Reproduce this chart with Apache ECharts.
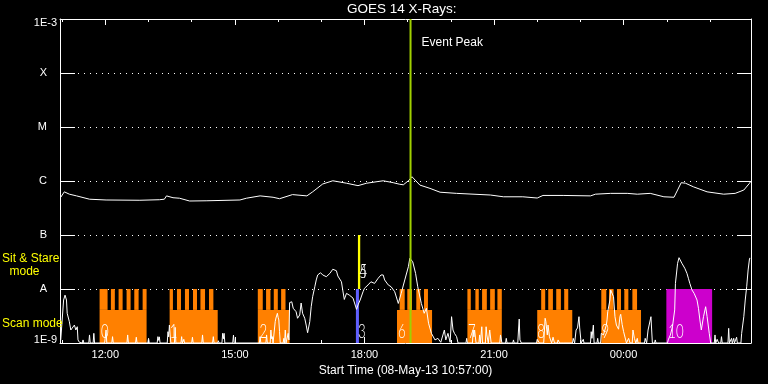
<!DOCTYPE html>
<html><head><meta charset="utf-8">
<script src="https://cdn.jsdelivr.net/npm/echarts@6/dist/echarts.min.js"></script>
<style>html,body{margin:0;padding:0;background:#000;}#c{width:768px;height:384px;}</style>
</head><body><div id="c"></div>
<script>
// x values: minutes after 00:00 on 08-May-13 (values above 1440 fall on 09-May)
const timeRange = [657, 1617];
const hourTicks = [660,720,780,840,900,960,1020,1080,1140,1200,1260,1320,1380,1440,1500,1560];
const majorTicks = [720, 900, 1080, 1260, 1440];
const majorTickLabels = ['12:00', '15:00', '18:00', '21:00', '00:00'];
const fluxRange = [1e-9, 1e-3];
const classExponents = [-3, -4, -5, -6, -7, -8, -9];
const classLabels = ['1E-3', 'X', 'M', 'C', 'B', 'A', '1E-9'];

// GOES 14 long channel (upper white curve), [time, W/m^2]
const longChannel = [[658,5.0e-7],[663,6.3e-7],[670,5.7e-7],[680,5.3e-7],[698,4.6e-7],[721,4.45e-7],[768,4.4e-7],[795,4.5e-7],[802,4.6e-7],[805,5.3e-7],[814,4.9e-7],[823,4.8e-7],[837,4.26e-7],[860,4.3e-7],[907,4.45e-7],[916,4.8e-7],[935,5.3e-7],[953,5.0e-7],[962,4.7e-7],[980,5.6e-7],[1000,5.3e-7],[1008,6.3e-7],[1022,8.8e-7],[1036,1.01e-6],[1055,9.1e-7],[1071,8.2e-7],[1083,9.1e-7],[1106,1.01e-6],[1120,9.3e-7],[1129,8.7e-7],[1134,8.5e-7],[1141,1.01e-6],[1146,1.2e-6],[1157,8.4e-7],[1171,7.3e-7],[1185,6.2e-7],[1208,5.9e-7],[1255,5.5e-7],[1273,5.1e-7],[1300,5.1e-7],[1320,4.84e-7],[1328,5.4e-7],[1356,5.4e-7],[1394,5.3e-7],[1401,5.7e-7],[1422,5.9e-7],[1445,5.9e-7],[1459,5.7e-7],[1477,5.9e-7],[1496,5.1e-7],[1510,5.0e-7],[1515,6.8e-7],[1520,9.3e-7],[1526,9.1e-7],[1537,7.8e-7],[1556,6.3e-7],[1579,5.7e-7],[1595,5.9e-7],[1607,6.8e-7],[1615,9.1e-7],[1617,1.0e-6]];

// GOES 14 short channel (lower white curve), [time, W/m^2]
const shortChannel = [[658,1.14e-9],[660,1.1e-9],[662,6.25e-9],[664,7.7e-9],[666,6.25e-9],[667,3.55e-9],[670,2.48e-9],[672,1.74e-9],[674,1.87e-9],[677,2.15e-9],[679,1.74e-9],[681,2.0e-9],[682,1.14e-9],[684,1.03e-9],
[688,1e-9],[689,1.14e-9],[690,1e-9],[697,1e-9],[698,1.41e-9],[699,1e-9],[703,1e-9],[704,1.51e-9],[705,1e-9],
[719,1e-9],[721,1.74e-9],[722,1e-9],[729,1e-9],[730,1.31e-9],[731,1e-9],[750,1e-9],[751,1.41e-9],[752,1e-9],
[762,1e-9],[763,1.28e-9],[764,1e-9],[779,1e-9],[780,1.22e-9],[781,1e-9],[792,1e-9],[793,1.31e-9],[794,1.12e-9],[795,1.3e-9],[796,1e-9],
[806,1e-9],[807,1.62e-9],[808,1.3e-9],[809,2.15e-9],[810,1.41e-9],[811,1e-9],[816,1e-9],[817,1.95e-9],[818,1e-9],
[825,1e-9],[826,1.31e-9],[827,1e-9],[828,1e-9],[829,1.17e-9],[830,1e-9],[840,1e-9],[841,1.28e-9],[842,1e-9],
[854,1e-9],[855,1.41e-9],[856,1e-9],[866,1e-9],[867,1.06e-9],[868,1e-9],[869,1e-9],[870,1.31e-9],[871,1e-9],
[876,1e-9],[877,1.1e-9],[878,1e-9],[882,1e-9],[883,1.51e-9],[884,1.2e-9],[885,1.51e-9],[886,1e-9],[897,1e-9],[898,1.4e-9],[899,1e-9],
[934,1e-9],[935,1.31e-9],[936,1e-9],[943,1e-9],[944,1.41e-9],[945,1e-9],[949,1e-9],[950,1.74e-9],[951,1.2e-9],[952,1.31e-9],[953,1e-9],
[955,1e-9],[956,2.48e-9],[957,2.9e-9],[959,3.55e-9],[960,3.0e-9],[961,2.67e-9],[962,1.62e-9],[963,1e-9],
[967,1e-9],[968,1.22e-9],[969,1e-9],[970,1.74e-9],[971,1e-9],[973,1e-9],[974,1.51e-9],[975,1.14e-9],
[976,5.6e-9],[979,5.8e-9],[981,4.4e-9],[982,4.1e-9],[985,3.8e-9],[987,2.87e-9],[990,3.3e-9],[992,5.5e-9],[994,3.55e-9],[997,2.87e-9],[999,2.15e-9],[1001,1.55e-9],[1004,2.48e-9],[1006,4.7e-9],[1008,7.2e-9],[1011,1.1e-8],[1013,1.47e-8],[1015,1.82e-8],[1019,2.0e-8],[1022,1.82e-8],[1027,1.69e-8],[1032,1.95e-8],[1036,2.32e-8],[1038,2.52e-8],[1041,2.18e-8],[1043,1.74e-8],[1048,1.36e-8],[1050,9.2e-9],[1052,6.4e-9],[1055,8.3e-9],[1059,7.7e-9],[1064,6.8e-9],[1069,4.2e-9],[1071,5.06e-9],[1074,6.25e-9],[1078,8.9e-9],[1080,1.03e-8],[1085,1.19e-8],[1089,1.36e-8],[1094,1.27e-8],[1099,1.58e-8],[1103,1.82e-8],[1106,1.82e-8],[1108,1.47e-8],[1113,1.19e-8],[1117,1.1e-8],[1122,8.9e-9],[1127,5.4e-9],[1131,8.3e-9],[1136,1.47e-8],[1141,2.59e-8],[1143,3.7e-8],[1145,3.7e-8],[1147,3.2e-8],[1151,1.95e-8],[1154,1.1e-8],[1159,5.4e-9],[1163,3.55e-9],[1166,4.4e-9],[1169,2.32e-9],[1173,1.51e-9],[1178,1.14e-9],[1182,1.22e-9],[1186,1.03e-9],[1191,1.74e-9],[1193,1.14e-9],[1196,1.51e-9],[1199,1.03e-9],[1201,3.07e-9],[1203,1.74e-9],[1205,1.51e-9],[1208,1.31e-9],[1210,1e-9],
[1221,1e-9],[1222,1.22e-9],[1223,1e-9],[1230,1e-9],[1231,1.74e-9],[1232,1.3e-9],[1233,1.74e-9],[1235,1e-9],[1239,1e-9],[1240,1.41e-9],[1241,1e-9],
[1242,1e-9],[1243,2.0e-9],[1244,1e-9],[1248,1e-9],[1249,2.0e-9],[1250,1.41e-9],[1252,1e-9],[1253,1e-9],[1254,1.74e-9],[1256,1e-9],
[1268,1e-9],[1269,1.41e-9],[1271,1e-9],[1276,1e-9],[1277,1.22e-9],[1278,1e-9],[1286,1e-9],[1287,1.14e-9],[1288,1e-9],
[1293,1e-9],[1294,1.74e-9],[1295,2.78e-9],[1296,1.14e-9],[1298,1e-9],[1319,1e-9],[1320,1.17e-9],[1323,1e-9],
[1329,1e-9],[1331,2.87e-9],[1332,2.48e-9],[1334,1.41e-9],[1335,2.15e-9],[1337,1.31e-9],[1340,1e-9],[1342,1.28e-9],[1344,1e-9],
[1348,1e-9],[1349,1.14e-9],[1351,1e-9],[1357,1e-9],[1358,1.03e-9],[1359,1e-9],[1369,1e-9],[1370,1.22e-9],[1372,1e-9],
[1374,1.74e-9],[1376,1.9e-9],[1378,3.07e-9],[1379,1.9e-9],[1381,1e-9],[1383,1e-9],[1384,1.17e-9],[1385,1e-9],
[1394,1e-9],[1395,1.62e-9],[1396,1.22e-9],[1398,2.15e-9],[1399,1e-9],[1403,1e-9],[1404,1.22e-9],[1405,1e-9],
[1408,1e-9],[1409,1.51e-9],[1412,1.41e-9],[1416,2.15e-9],[1417,2.67e-9],[1418,3.8e-9],[1421,6.25e-9],[1422,9.6e-9],[1423,9.6e-9],[1426,7.2e-9],[1428,3.07e-9],[1430,2.15e-9],[1433,1.8e-9],[1435,3.1e-9],[1436,3.4e-9],[1438,2.2e-9],[1440,1.62e-9],[1442,1.74e-9],[1444,1e-9],
[1446,1e-9],[1447,1.22e-9],[1449,1e-9],[1452,1e-9],[1453,1.74e-9],[1455,1.22e-9],[1457,1e-9],[1459,1.22e-9],[1460,1e-9],
[1469,1e-9],[1470,1.22e-9],[1472,1e-9],[1473,1e-9],[1474,1.74e-9],[1478,3.07e-9],[1479,1.74e-9],[1480,1e-9],[1483,1e-9],[1484,1.14e-9],[1485,1e-9],
[1501,1e-9],[1502,1.14e-9],[1505,1.41e-9],[1508,2.05e-9],[1511,4.1e-9],[1512,1.27e-8],[1515,2.99e-8],[1517,3.8e-8],[1521,2.99e-8],[1525,2.42e-8],[1528,1.95e-8],[1530,1.58e-8],[1532,1.27e-8],[1535,9.6e-9],[1538,8.3e-9],[1542,6.25e-9],[1544,4.4e-9],[1546,2.67e-9],[1548,1.74e-9],[1551,3.07e-9],[1554,4.7e-9],[1556,3.1e-9],[1559,1.51e-9],[1561,1e-9],
[1566,1e-9],[1567,1.41e-9],[1568,1e-9],[1570,1.17e-9],[1572,1e-9],[1575,1e-9],[1576,1.31e-9],[1577,1e-9],[1585,1e-9],[1586,1.87e-9],[1587,1e-9],
[1589,1e-9],[1590,1.22e-9],[1591,1e-9],[1592,1e-9],[1593,1.22e-9],[1594,1e-9],[1596,1e-9],[1597,1.28e-9],[1598,1e-9],
[1603,1e-9],[1604,1.51e-9],[1607,3.07e-9],[1609,6.25e-9],[1611,1.1e-8],[1613,2.25e-8],[1615,3.7e-8],[1616,3.7e-8]];

// observation blocks: [start, end] in minutes; flux levels bound the drawn bands
const scanLevels = [1e-9, 4.1e-9, 1e-8];   // floor, top of solid band, top of image comb
const sitStareLevels = [1e-8, 1e-7];
const scanSpans = [[712,777.3],[809.3,876.1],[931.8,975.9],[1125.2,1173.9],[1223,1270.8],[1320,1368.7],[1409,1464.2]];
const scanImages = [[712,723.1],[727.7,733.2],[738.4,744],[749.5,755.1],[760.2,766.2],[771.8,777.3],
  [809.3,813.9],[819.5,825.1],[830.6,836.2],[841.8,847.3],[852.1,858.5],[864,870.1],
  [931.8,938.7],[943.3,949.4],[954,959.6],[964.2,970.3],
  [1128.9,1135.9],[1139.5,1146],[1152,1157.6],[1162.7,1168.2],
  [1223,1227.7],[1234.1,1238.8],[1243.4,1250],[1254.6,1261.1],[1264.7,1270.8],
  [1325.5,1331.1],[1335.3,1341.8],[1346.4,1352.9],[1357.5,1363.1],
  [1409,1416],[1419.7,1426.1],[1430.8,1436.4],[1441,1446.6],[1452.2,1458.7]];
const otherScanSpans = [[1499.4,1563]];
const shortScanSpans = [[1068.1,1072.3]];
const sitStareSpans = [[1070.9,1074.1]];
const scanNumbers = [['0',713.8],['1',809.5],['2',934],['3',1071],['6',1126.6],['7',1224],['8',1320],['9',1409.4],['10',1502]];
const sitStareNumbers = [['4',1073,2.1e-8],['5',1073,2.1e-8]];
const eventPeakTime = 1144;

const FONT = 'Liberation Sans';
function bandData(spans, lo, hi){ return spans.map(s => [s[0], s[1], lo, hi]); }
function rectRender(color){
  return function(params, api){
    const a = api.coord([api.value(0), api.value(3)]);
    const b = api.coord([api.value(1), api.value(2)]);
    return {type:'rect', shape:{x:a[0], y:a[1], width:b[0]-a[0], height:b[1]-a[1]}, style:{fill:color}};
  };
}
function bandSeries(data, color, z){
  return {type:'custom', renderItem: rectRender(color), data: data, encode:{x:[0,1], y:[2,3]}, z: z, silent:true, clip:true};
}
function numRender(params, api){
  const v = api.value(2);
  const p = api.coord([api.value(1), v]);
  return {type:'text', x:p[0], y:p[1] - (v === fluxRange[0] ? 1 : 0), scaleX:0.66,
    style:{text: scanNumbersAll[params.dataIndex][0], fill:'#fff', font:'300 20px Lato',
      align:'left', verticalAlign: v === fluxRange[0] ? 'bottom' : 'middle'}};
}
const scanNumbersAll = scanNumbers.map(n => [n[0], n[1], fluxRange[0]]).concat(sitStareNumbers);

const chart = echarts.init(document.getElementById('c'));
const xBase = {type:'value', min:timeRange[0], max:timeRange[1], splitLine:{show:false}};
const option = {
  backgroundColor:'#000',
  animation:false,
  grid:{left:60, right:17, top:19, bottom:41},
  xAxis:[
    Object.assign({}, xBase, {position:'bottom',
      axisLine:{show:true, onZero:false, lineStyle:{color:'#fff', width:1}},
      axisTick:{show:true, inside:true, length:6, customValues:majorTicks, lineStyle:{color:'#fff'}},
      axisLabel:{show:true, customValues:majorTicks, margin:6, color:'#fff', fontSize:11, fontFamily:FONT,
        formatter: v => majorTickLabels[majorTicks.indexOf(v)]},
      name:'Start Time (08-May-13 10:57:00)', nameLocation:'middle', nameGap:20,
      nameTextStyle:{color:'#fff', fontSize:12, fontFamily:FONT}}),
    Object.assign({}, xBase, {position:'bottom', axisLine:{show:false, onZero:false},
      axisTick:{show:true, inside:true, length:3, customValues:hourTicks, lineStyle:{color:'#fff'}},
      axisLabel:{show:false}}),
    Object.assign({}, xBase, {position:'top',
      axisLine:{show:true, onZero:false, lineStyle:{color:'#fff', width:1}},
      axisTick:{show:true, inside:true, length:6, customValues:majorTicks, lineStyle:{color:'#fff'}},
      axisLabel:{show:false}}),
    Object.assign({}, xBase, {position:'top', axisLine:{show:false, onZero:false},
      axisTick:{show:true, inside:true, length:3, customValues:hourTicks, lineStyle:{color:'#fff'}},
      axisLabel:{show:false}})
  ],
  yAxis:[
    {type:'log', logBase:10, min:fluxRange[0], max:fluxRange[1], position:'left',
      axisLine:{show:true, onZero:false, lineStyle:{color:'#fff', width:1}},
      axisTick:{show:true, inside:true, length:15, lineStyle:{color:'#fff'}},
      splitLine:{show:true, lineStyle:{color:'#fff', width:1, type:[1,5]}},
      axisLabel:{show:true, margin:3, color:'#fff', fontSize:11, fontFamily:FONT,
        formatter: v => {
          const e = Math.round(Math.log10(v));
          const lab = classLabels[classExponents.indexOf(e)];
          if (e === -3) return '{t|' + lab + '}';
          if (e === -9) return '{b|' + lab + '}';
          return '{l|' + lab + '}';
        },
        rich:{t:{padding:[8,0,0,0], color:'#fff', fontSize:11, fontFamily:FONT},
              b:{padding:[0,0,6,0], color:'#fff', fontSize:11, fontFamily:FONT},
              l:{padding:[0,10,0,0], color:'#fff', fontSize:11, fontFamily:FONT}}}},
    {type:'log', logBase:10, min:fluxRange[0], max:fluxRange[1], position:'right',
      axisLine:{show:true, onZero:false, lineStyle:{color:'#fff', width:1}},
      axisTick:{show:true, inside:true, length:14, lineStyle:{color:'#fff'}},
      splitLine:{show:false}, axisLabel:{show:false}}
  ],
  graphic:[
    {type:'text', silent:true, style:{x:401.7, y:9.5, text:'GOES 14 X-Rays:', fill:'#fff', font:'13.5px ' + FONT, align:'center', verticalAlign:'middle'}},
    {type:'text', silent:true, z:100, style:{x:2, y:259, text:'Sit & Stare', fill:'#ffff00', font:'12px ' + FONT, align:'left', verticalAlign:'middle'}},
    {type:'text', silent:true, z:100, style:{x:24.5, y:271.5, text:'mode', fill:'#ffff00', font:'12px ' + FONT, align:'center', verticalAlign:'middle'}},
    {type:'text', silent:true, z:100, style:{x:2, y:323.7, text:'Scan mode', fill:'#ffff00', font:'12px ' + FONT, align:'left', verticalAlign:'middle'}}
  ],
  series:[
    bandSeries(bandData(scanSpans, scanLevels[0], scanLevels[1]), '#ff8000', 1),
    bandSeries(bandData(scanImages, scanLevels[1], scanLevels[2]), '#ff8000', 1),
    bandSeries(bandData(otherScanSpans, scanLevels[0], scanLevels[2]), '#cc00cc', 1),
    bandSeries(bandData(shortScanSpans, scanLevels[0], scanLevels[2]), '#6060ff', 1),
    bandSeries(bandData(sitStareSpans, sitStareLevels[0], sitStareLevels[1]), '#ffff00', 1),
    {type:'line', data:longChannel, showSymbol:false, symbol:'none', z:3, silent:true,
      lineStyle:{color:'#fff', width:1}},
    {type:'line', data:shortChannel, showSymbol:false, symbol:'none', z:3, silent:true,
      lineStyle:{color:'#fff', width:1}},
    {type:'custom', z:5, silent:true, data:[[eventPeakTime, fluxRange[0], fluxRange[1]]], encode:{x:0, y:[1,2]},
      renderItem: function(params, api){
        const a = api.coord([api.value(0), api.value(1)]);
        const b = api.coord([api.value(0), api.value(2)]);
        return {type:'group', children:[
          {type:'line', shape:{x1:a[0], y1:a[1], x2:b[0], y2:b[1]}, style:{stroke:'#a0d000', lineWidth:2}},
          {type:'text', x:b[0] + 11, y:b[1] + 24, style:{text:'Event Peak', fill:'#fff', font:'12px ' + FONT, align:'left', verticalAlign:'middle'}}
        ]};
      }},
    {type:'custom', z:6, silent:true, data: scanNumbersAll.map(n => [0, n[1], n[2]]), encode:{x:1, y:2},
      renderItem: numRender}
  ]
};
chart.setOption(option);
</script></body></html>
